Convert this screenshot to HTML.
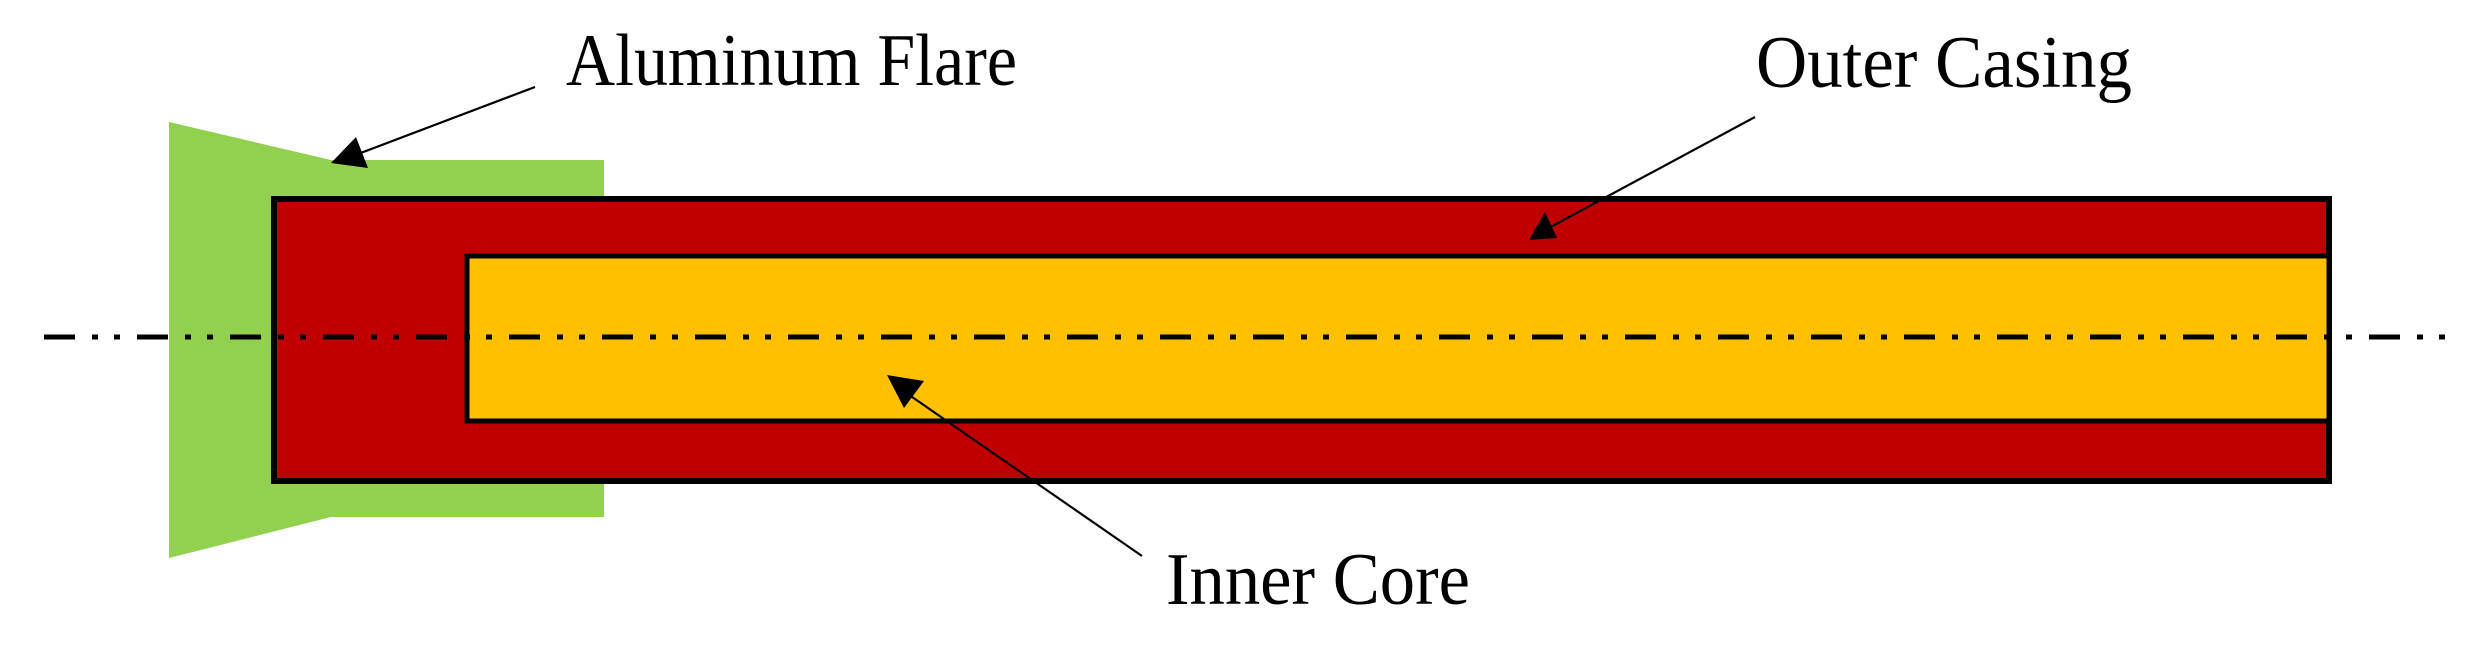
<!DOCTYPE html>
<html><head><style>html,body{margin:0;padding:0;background:#fff}svg{display:block}</style></head>
<body>
<svg width="2485" height="645" viewBox="0 0 2485 645" xmlns="http://www.w3.org/2000/svg">
<polygon points="169,122 331,160 604,160 604,517 331,517 169,558" fill="#92d050"/>
<rect x="274" y="199" width="2055" height="282" fill="#c00000" stroke="#000" stroke-width="6"/>
<rect x="467" y="256" width="1862" height="165" fill="#ffc000" stroke="#000" stroke-width="5"/>
<line x1="44" y1="337" x2="2458" y2="337" stroke="#000" stroke-width="5" stroke-dasharray="31 17 6 16 6 17"/>
<g stroke="#000" stroke-width="2.2">
<line x1="535" y1="87" x2="350" y2="157"/>
<line x1="1755" y1="117" x2="1545" y2="230"/>
<line x1="1142" y1="556" x2="902" y2="390"/>
</g>
<polygon points="331,163 356,137 368,168" fill="#000"/>
<polygon points="1529,240 1545,212 1557,238" fill="#000"/>
<polygon points="887,375 924,381 904,408" fill="#000"/>
<g font-family="Liberation Serif, serif" font-size="74" fill="#000">
<text x="566" y="85" textLength="451" lengthAdjust="spacingAndGlyphs">Aluminum Flare</text>
<text x="1756" y="87" textLength="376" lengthAdjust="spacingAndGlyphs">Outer Casing</text>
<text x="1166" y="604" textLength="304" lengthAdjust="spacingAndGlyphs">Inner Core</text>
</g>
</svg>
</body></html>
